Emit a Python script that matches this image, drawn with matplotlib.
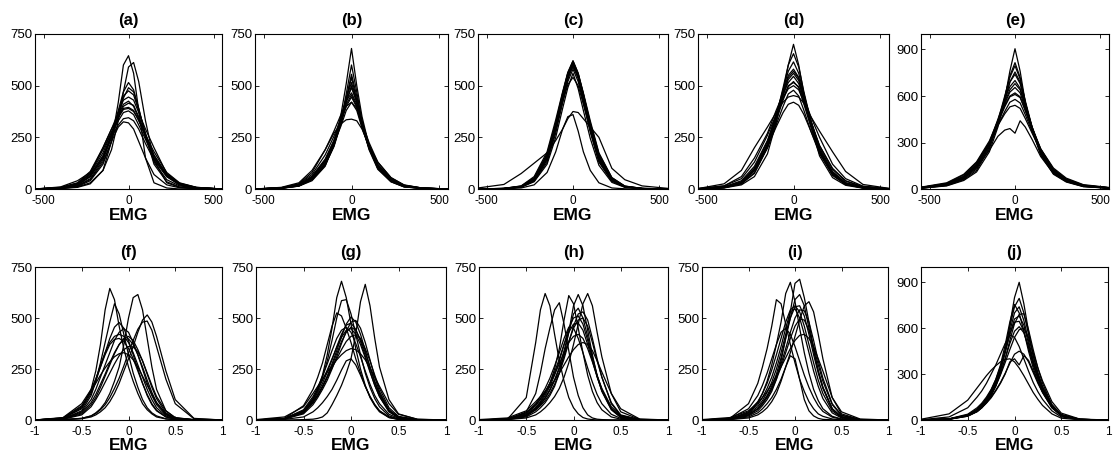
import matplotlib
matplotlib.use("Agg")
import matplotlib.pyplot as plt

plt.rcParams['font.family'] = ['Liberation Sans', 'DejaVu Sans']
plt.rcParams['axes.unicode_minus'] = False

# ---------------------------------------------------------------- data
# histogram sample positions (top row: raw EMG, bottom row: normalised EMG)
emg_raw = [-550, -400, -300, -225, -150, -100, -60, -30, 0, 30, 60, 100, 150, 225, 300, 400, 550]
emg_norm = [-1, -0.7, -0.5, -0.4, -0.35, -0.3, -0.25, -0.2, -0.15, -0.1, -0.05, 0,
            0.05, 0.1, 0.15, 0.2, 0.25, 0.3, 0.4, 0.5, 0.7, 1]

panel_labels = ['a', 'b', 'c', 'd', 'e', 'f', 'g', 'h', 'i', 'j']

counts_a = [
    [0, 2, 8, 25, 90, 230, 420, 600, 645, 560, 380, 150, 30, 5, 0, 0, 0],
    [0, 3, 10, 30, 90, 190, 330, 470, 590, 612, 520, 330, 140, 30, 8, 2, 0],
    [0, 4, 15, 50, 140, 250, 380, 470, 515, 480, 390, 260, 130, 45, 15, 4, 0],
    [0, 5, 18, 60, 150, 260, 370, 450, 475, 455, 380, 270, 150, 60, 20, 5, 0],
    [0, 6, 25, 75, 200, 290, 370, 430, 445, 430, 370, 290, 200, 75, 28, 8, 0],
    [0, 5, 20, 65, 160, 265, 355, 410, 425, 400, 340, 250, 150, 65, 22, 6, 0],
    [0, 8, 30, 85, 200, 290, 350, 390, 395, 380, 330, 260, 180, 80, 30, 8, 0],
    [0, 10, 40, 80, 190, 275, 330, 370, 378, 360, 310, 240, 150, 70, 25, 6, 0],
    [0, 6, 25, 70, 160, 250, 310, 340, 345, 330, 290, 220, 140, 60, 20, 5, 0],
    [0, 4, 15, 45, 130, 230, 300, 325, 320, 290, 230, 150, 70, 20, 6, 2, 0],
    [0, 5, 20, 60, 150, 255, 345, 400, 415, 405, 350, 265, 165, 70, 25, 6, 0],
    [0, 7, 28, 75, 175, 275, 345, 385, 390, 375, 335, 255, 160, 70, 25, 7, 0],
    [0, 3, 12, 40, 120, 230, 350, 440, 490, 470, 390, 260, 120, 35, 10, 2, 0],
]
counts_b = [
    [0, 3, 14, 40, 110, 220, 360, 510, 680, 500, 350, 210, 100, 35, 10, 3, 0],
    [0, 4, 15, 45, 115, 210, 330, 460, 600, 470, 330, 200, 100, 38, 12, 3, 0],
    [0, 5, 18, 50, 125, 220, 330, 440, 555, 450, 330, 210, 110, 42, 14, 4, 0],
    [0, 4, 14, 45, 115, 205, 315, 430, 540, 430, 310, 190, 95, 35, 10, 3, 0],
    [0, 5, 20, 60, 140, 235, 340, 440, 515, 430, 320, 210, 115, 45, 15, 4, 0],
    [0, 4, 16, 50, 125, 215, 320, 420, 500, 420, 310, 200, 105, 40, 12, 3, 0],
    [0, 6, 25, 80, 190, 280, 360, 425, 465, 410, 320, 215, 120, 50, 18, 5, 0],
    [0, 5, 18, 55, 135, 225, 320, 400, 445, 395, 300, 200, 110, 45, 15, 4, 0],
    [0, 5, 20, 58, 135, 220, 305, 380, 420, 380, 295, 200, 110, 45, 16, 4, 0],
    [0, 8, 30, 90, 190, 270, 315, 335, 338, 330, 290, 210, 130, 55, 20, 5, 0],
    [0, 4, 16, 48, 120, 210, 320, 425, 490, 420, 310, 195, 100, 38, 12, 3, 0],
    [0, 5, 20, 62, 145, 235, 330, 410, 455, 400, 305, 205, 115, 48, 16, 4, 0],
    [0, 6, 24, 70, 165, 255, 340, 400, 420, 390, 320, 225, 130, 55, 18, 5, 0],
]
counts_c = [
    [0, 2, 12, 50, 160, 310, 460, 560, 620, 560, 460, 310, 160, 50, 12, 2, 0],
    [0, 2, 10, 40, 140, 285, 440, 550, 615, 550, 440, 285, 135, 38, 10, 2, 0],
    [0, 3, 14, 55, 170, 320, 465, 560, 610, 555, 460, 320, 170, 55, 14, 3, 0],
    [0, 2, 10, 38, 130, 270, 420, 530, 600, 535, 425, 275, 130, 38, 10, 2, 0],
    [0, 2, 11, 42, 145, 290, 425, 520, 580, 520, 420, 285, 140, 42, 11, 2, 0],
    [0, 3, 15, 60, 180, 335, 470, 565, 620, 560, 465, 330, 175, 55, 14, 3, 0],
    [0, 2, 9, 35, 120, 250, 390, 490, 560, 485, 380, 245, 115, 32, 8, 2, 0],
    [0, 2, 12, 45, 150, 295, 420, 505, 540, 500, 410, 285, 145, 44, 12, 2, 0],
    [5, 22, 75, 125, 175, 235, 290, 340, 375, 370, 340, 300, 250, 100, 45, 15, 3],
    [0, 1, 5, 20, 80, 180, 290, 350, 360, 280, 180, 90, 30, 5, 1, 0, 0],
    [0, 2, 10, 42, 150, 300, 440, 540, 600, 545, 445, 300, 150, 42, 10, 2, 0],
    [0, 2, 11, 45, 155, 305, 445, 545, 590, 540, 440, 300, 155, 45, 11, 2, 0],
    [0, 3, 13, 50, 165, 315, 455, 550, 605, 550, 455, 315, 165, 50, 13, 3, 0],
]
counts_d = [
    [0, 5, 20, 60, 170, 320, 470, 600, 700, 600, 460, 310, 160, 55, 18, 4, 0],
    [0, 6, 25, 75, 200, 350, 490, 600, 655, 590, 470, 330, 180, 65, 22, 5, 0],
    [0, 8, 30, 90, 220, 360, 480, 570, 615, 560, 460, 330, 190, 75, 25, 6, 0],
    [0, 10, 35, 100, 230, 360, 470, 550, 580, 540, 450, 330, 200, 85, 30, 8, 0],
    [2, 15, 60, 150, 270, 380, 460, 515, 545, 510, 440, 350, 250, 120, 50, 14, 2],
    [0, 8, 30, 95, 210, 330, 430, 495, 520, 490, 410, 300, 180, 75, 25, 6, 0],
    [2, 15, 50, 130, 260, 360, 440, 485, 500, 480, 420, 320, 210, 100, 40, 12, 2],
    [0, 8, 30, 90, 200, 310, 400, 460, 478, 450, 380, 280, 170, 70, 25, 6, 0],
    [2, 25, 90, 200, 300, 370, 420, 445, 452, 445, 415, 350, 280, 180, 85, 22, 3],
    [0, 10, 35, 100, 205, 300, 370, 410, 420, 405, 360, 280, 180, 80, 30, 8, 0],
    [0, 8, 30, 90, 215, 345, 460, 540, 570, 535, 445, 320, 190, 80, 28, 7, 0],
    [0, 6, 25, 80, 200, 330, 450, 530, 560, 525, 430, 305, 175, 70, 22, 5, 0],
    [0, 10, 40, 110, 235, 350, 440, 500, 515, 495, 430, 330, 210, 95, 38, 10, 0],
]
counts_e = [
    [5, 20, 55, 110, 240, 400, 580, 760, 905, 760, 560, 380, 220, 95, 45, 15, 5],
    [5, 22, 60, 120, 260, 420, 590, 730, 815, 720, 560, 390, 230, 100, 48, 16, 5],
    [8, 28, 70, 140, 280, 440, 600, 720, 795, 710, 570, 400, 240, 110, 55, 20, 6],
    [6, 25, 65, 130, 270, 420, 570, 690, 755, 690, 550, 390, 230, 105, 50, 18, 5],
    [10, 35, 80, 160, 300, 450, 580, 660, 700, 650, 540, 400, 260, 125, 60, 22, 8],
    [8, 30, 75, 150, 290, 430, 550, 625, 655, 620, 520, 390, 250, 120, 58, 20, 6],
    [12, 40, 95, 175, 310, 440, 540, 600, 620, 595, 510, 390, 260, 135, 70, 28, 10],
    [8, 30, 80, 160, 290, 410, 500, 560, 578, 555, 480, 370, 245, 120, 60, 22, 8],
    [10, 35, 90, 170, 300, 410, 485, 530, 540, 520, 455, 360, 245, 125, 65, 25, 8],
    [5, 25, 70, 140, 250, 340, 380, 390, 360, 440, 400, 320, 210, 100, 50, 18, 5],
    [8, 28, 72, 145, 285, 435, 575, 690, 740, 680, 555, 400, 245, 115, 55, 20, 6],
    [10, 32, 80, 155, 295, 440, 560, 640, 680, 640, 535, 395, 250, 120, 58, 22, 7],
    [8, 30, 78, 150, 290, 425, 530, 595, 610, 590, 505, 385, 255, 128, 62, 24, 8],
]
counts_f = [
    [0, 8, 60, 150, 240, 370, 540, 645, 590, 460, 350, 260, 190, 130, 80, 50, 30, 15, 5, 2, 0, 0],
    [0, 6, 45, 120, 190, 280, 380, 480, 570, 520, 420, 320, 230, 160, 100, 60, 35, 20, 6, 2, 0, 0],
    [0, 2, 8, 20, 35, 55, 85, 130, 190, 260, 370, 500, 600, 615, 540, 400, 260, 150, 45, 10, 2, 0],
    [0, 2, 6, 15, 25, 40, 60, 90, 130, 180, 240, 300, 360, 430, 490, 515, 480, 410, 240, 100, 8, 0],
    [0, 2, 8, 20, 32, 50, 75, 110, 155, 205, 265, 330, 390, 445, 480, 485, 440, 360, 200, 80, 6, 0],
    [0, 8, 55, 130, 190, 260, 330, 400, 455, 478, 450, 390, 320, 250, 180, 120, 75, 45, 15, 4, 0, 0],
    [0, 6, 40, 100, 150, 210, 270, 330, 390, 430, 448, 430, 380, 320, 250, 180, 120, 75, 25, 6, 1, 0],
    [0, 5, 35, 85, 125, 175, 225, 280, 330, 370, 395, 398, 370, 320, 260, 195, 135, 85, 30, 8, 1, 0],
    [0, 4, 25, 65, 100, 140, 185, 230, 275, 315, 345, 360, 358, 335, 290, 230, 170, 115, 45, 12, 1, 0],
    [0, 10, 70, 140, 180, 220, 255, 285, 310, 325, 330, 320, 295, 260, 215, 170, 125, 85, 30, 8, 1, 0],
    [0, 10, 65, 140, 200, 270, 330, 380, 410, 420, 410, 380, 330, 270, 210, 150, 100, 60, 20, 5, 0, 0],
    [0, 5, 30, 75, 110, 160, 215, 270, 325, 370, 400, 410, 390, 345, 290, 225, 160, 105, 35, 9, 1, 0],
    [0, 12, 80, 150, 200, 260, 320, 370, 395, 400, 385, 350, 300, 240, 180, 125, 80, 48, 15, 4, 0, 0],
]
counts_g = [
    [0, 0, 2, 4, 8, 15, 35, 75, 120, 170, 230, 300, 420, 580, 665, 560, 400, 260, 100, 30, 3, 0],
    [0, 5, 40, 100, 150, 220, 320, 450, 600, 680, 600, 470, 350, 250, 170, 110, 70, 40, 12, 3, 0, 0],
    [0, 6, 45, 105, 150, 210, 290, 390, 500, 585, 590, 520, 420, 320, 230, 160, 105, 65, 20, 5, 0, 0],
    [0, 8, 70, 150, 210, 280, 370, 460, 525, 510, 450, 380, 300, 230, 165, 115, 75, 45, 15, 4, 0, 0],
    [0, 5, 35, 85, 120, 165, 215, 275, 340, 410, 470, 505, 480, 420, 340, 260, 185, 125, 45, 12, 1, 0],
    [0, 5, 30, 75, 110, 150, 195, 250, 310, 375, 435, 480, 488, 450, 380, 295, 210, 140, 50, 14, 1, 0],
    [0, 8, 45, 105, 145, 195, 245, 300, 355, 405, 440, 448, 420, 370, 305, 235, 170, 115, 42, 12, 1, 0],
    [0, 6, 40, 90, 125, 165, 210, 255, 300, 345, 385, 410, 418, 400, 350, 290, 220, 155, 60, 18, 2, 0],
    [2, 15, 65, 130, 165, 200, 235, 265, 295, 320, 340, 350, 345, 325, 295, 255, 210, 165, 80, 28, 4, 0],
    [0, 3, 15, 40, 60, 85, 115, 150, 195, 245, 290, 300, 270, 220, 165, 115, 75, 45, 12, 3, 0, 0],
    [0, 6, 40, 95, 135, 180, 235, 295, 360, 420, 465, 475, 445, 385, 315, 240, 170, 115, 40, 10, 1, 0],
    [0, 5, 35, 85, 120, 160, 210, 265, 325, 385, 430, 455, 440, 395, 330, 260, 190, 130, 48, 14, 1, 0],
    [0, 7, 50, 115, 160, 215, 275, 340, 400, 440, 455, 430, 375, 310, 240, 175, 120, 80, 28, 8, 0, 0],
]
counts_h = [
    [0, 3, 110, 380, 540, 620, 560, 420, 290, 190, 110, 60, 30, 12, 5, 2, 0, 0, 0, 0, 0, 0],
    [0, 3, 40, 130, 230, 350, 450, 540, 575, 470, 340, 210, 120, 60, 25, 10, 4, 2, 0, 0, 0, 0],
    [0, 3, 25, 60, 90, 130, 180, 250, 350, 490, 610, 570, 450, 330, 220, 140, 85, 50, 15, 4, 0, 0],
    [0, 2, 15, 40, 60, 85, 120, 165, 230, 320, 430, 560, 615, 560, 440, 320, 215, 140, 50, 12, 1, 0],
    [0, 2, 10, 25, 40, 60, 85, 115, 155, 210, 280, 370, 470, 570, 620, 560, 430, 310, 130, 40, 3, 0],
    [0, 3, 20, 50, 75, 105, 145, 195, 260, 340, 430, 520, 548, 500, 410, 310, 220, 150, 55, 15, 1, 0],
    [0, 4, 25, 55, 80, 110, 150, 195, 250, 315, 385, 450, 490, 500, 460, 380, 290, 210, 85, 25, 2, 0],
    [0, 5, 35, 80, 115, 155, 205, 265, 330, 400, 455, 450, 400, 330, 255, 185, 125, 80, 28, 8, 0, 0],
    [0, 5, 35, 75, 105, 140, 180, 225, 275, 330, 380, 410, 420, 400, 350, 285, 215, 155, 65, 20, 2, 0],
    [2, 10, 45, 90, 115, 140, 165, 195, 230, 270, 310, 345, 370, 380, 370, 340, 290, 235, 130, 55, 5, 0],
    [0, 4, 25, 60, 85, 120, 165, 220, 290, 370, 450, 500, 510, 470, 390, 300, 215, 145, 55, 15, 1, 0],
    [0, 3, 20, 50, 70, 95, 130, 175, 230, 300, 380, 460, 520, 530, 490, 400, 300, 210, 80, 22, 2, 0],
    [0, 5, 30, 70, 100, 135, 180, 235, 300, 370, 430, 470, 475, 440, 370, 290, 210, 145, 55, 16, 1, 0],
]
counts_i = [
    [0, 3, 20, 45, 70, 100, 140, 200, 290, 400, 530, 670, 690, 600, 480, 350, 240, 160, 55, 15, 1, 0],
    [0, 5, 35, 85, 130, 190, 270, 370, 480, 620, 675, 580, 450, 330, 230, 150, 95, 55, 18, 5, 0, 0],
    [0, 8, 80, 180, 260, 350, 460, 590, 570, 470, 370, 280, 200, 140, 90, 55, 30, 18, 5, 1, 0, 0],
    [0, 3, 15, 35, 55, 80, 110, 150, 200, 260, 330, 410, 490, 560, 580, 530, 420, 300, 110, 30, 2, 0],
    [0, 4, 25, 55, 85, 120, 165, 225, 305, 400, 500, 590, 615, 560, 450, 340, 240, 160, 55, 15, 1, 0],
    [0, 5, 35, 75, 110, 155, 210, 280, 360, 450, 530, 545, 500, 420, 330, 240, 165, 105, 35, 10, 0, 0],
    [0, 4, 25, 55, 80, 110, 150, 200, 260, 330, 400, 460, 495, 490, 440, 360, 270, 190, 75, 22, 2, 0],
    [0, 8, 55, 120, 170, 230, 300, 370, 430, 450, 420, 360, 290, 220, 160, 110, 70, 42, 14, 4, 0, 0],
    [2, 12, 45, 85, 110, 140, 175, 215, 260, 305, 350, 390, 415, 420, 400, 360, 300, 240, 110, 40, 5, 0],
    [0, 2, 10, 25, 40, 60, 90, 130, 190, 260, 315, 300, 200, 100, 45, 20, 8, 3, 1, 0, 0, 0],
    [0, 5, 30, 65, 95, 135, 185, 250, 330, 420, 500, 555, 560, 510, 420, 320, 230, 155, 55, 15, 1, 0],
    [0, 6, 40, 90, 130, 180, 245, 320, 400, 480, 540, 560, 530, 460, 370, 280, 195, 130, 45, 12, 1, 0],
    [0, 4, 25, 55, 80, 115, 155, 210, 275, 350, 430, 500, 540, 535, 480, 390, 290, 205, 80, 24, 2, 0],
]
counts_j = [
    [0, 5, 25, 55, 80, 115, 160, 225, 320, 450, 620, 800, 900, 760, 580, 420, 300, 210, 90, 30, 3, 0],
    [0, 6, 30, 65, 95, 135, 185, 250, 340, 460, 610, 740, 795, 700, 560, 420, 310, 220, 100, 35, 4, 0],
    [0, 6, 32, 70, 100, 140, 195, 265, 360, 490, 640, 755, 700, 580, 450, 340, 250, 180, 80, 28, 3, 0],
    [0, 5, 25, 55, 80, 115, 160, 220, 300, 400, 520, 630, 690, 695, 590, 460, 340, 240, 100, 35, 4, 0],
    [0, 8, 38, 80, 110, 150, 200, 265, 350, 450, 560, 640, 645, 580, 470, 360, 270, 195, 90, 32, 4, 0],
    [0, 6, 30, 62, 90, 125, 170, 225, 295, 375, 460, 540, 590, 600, 540, 440, 340, 255, 120, 45, 6, 0],
    [2, 20, 80, 150, 190, 240, 300, 360, 430, 500, 555, 540, 480, 400, 320, 245, 185, 135, 60, 20, 2, 0],
    [0, 6, 30, 60, 85, 115, 150, 195, 245, 305, 370, 430, 450, 430, 380, 310, 240, 180, 80, 28, 3, 0],
    [0, 5, 28, 55, 80, 110, 145, 190, 240, 300, 380, 400, 360, 420, 390, 320, 250, 185, 85, 30, 3, 0],
    [5, 40, 130, 210, 250, 290, 325, 355, 380, 395, 400, 380, 340, 290, 235, 180, 135, 95, 40, 12, 1, 0],
    [0, 6, 30, 65, 95, 130, 180, 245, 330, 440, 580, 700, 740, 650, 520, 390, 290, 205, 90, 32, 4, 0],
    [0, 7, 34, 70, 100, 140, 190, 255, 340, 445, 560, 660, 680, 620, 500, 380, 280, 200, 90, 32, 4, 0],
    [0, 6, 32, 68, 95, 130, 175, 235, 310, 400, 500, 580, 610, 570, 480, 370, 275, 198, 90, 32, 4, 0],
]

raw_ticks = [-500, 0, 500]
raw_ticklabels = ['-500', '0', '500']
norm_ticks = [-1, -0.5, 0, 0.5, 1]
norm_ticklabels = ['-1', '-0.5', '0', '0.5', '1']
yticks_750 = [0, 250, 500, 750]
yticks_900 = [0, 300, 600, 900]

# ---------------------------------------------------------------- layout
W, H = 1118, 461
fig = plt.figure(figsize=(W / 100, H / 100), dpi=100)
fig.patch.set_facecolor('white')

# axes boxes in pixels: (left, top, right, bottom)
boxes = [(35, 34, 222, 189), (255, 34, 448, 189), (478, 34, 668, 189),
         (698, 34, 889, 189), (921, 34, 1109, 189),
         (35, 267, 222, 420), (256, 267, 446, 420), (479, 267, 668, 420),
         (702, 267, 888, 420), (921, 267, 1108, 420)]

all_counts = [counts_a, counts_b, counts_c, counts_d, counts_e,
              counts_f, counts_g, counts_h, counts_i, counts_j]

for k, (label, curves, box) in enumerate(zip(panel_labels, all_counts, boxes)):
    l, t, r, b = box
    ax = fig.add_axes([l / W, 1 - b / H, (r - l) / W, (b - t) / H])
    top_row = k < 5
    xs = emg_raw if top_row else emg_norm
    for c in curves:
        ax.plot(xs, c, color='black', lw=0.9, solid_joinstyle='round')

    if top_row:
        ax.set_xlim(-550, 550)
        ax.set_xticks(raw_ticks)
        ax.set_xticklabels(raw_ticklabels)
    else:
        ax.set_xlim(-1, 1)
        ax.set_xticks(norm_ticks)
        ax.set_xticklabels(norm_ticklabels)

    if label in ('e', 'j'):
        ax.set_ylim(0, 1000)
        ax.set_yticks(yticks_900)
    else:
        ax.set_ylim(0, 750)
        ax.set_yticks(yticks_750)

    ax.tick_params(direction='in', length=3, width=0.6, top=True, right=True,
                   colors='black')
    ax.tick_params(axis='x', pad=4, labelsize=8.5)
    ax.tick_params(axis='y', pad=2, labelsize=9.5)
    for s in ax.spines.values():
        s.set_linewidth(0.8)
        s.set_color('black')

    title_off = 9.7 if top_row else 10.8
    ax.annotate(f'({label})', xy=(0.5, 1), xycoords='axes fraction',
                xytext=(0, title_off), textcoords='offset points',
                ha='center', va='center', fontsize=12, fontweight='bold')
    emg_off = -19.4 if top_row else -18.7
    ax.annotate('EMG', xy=(0.5, 0), xycoords='axes fraction',
                xytext=(0, emg_off), textcoords='offset points',
                ha='center', va='center', fontsize=12.5, fontweight='bold')

fig.savefig('out.png', dpi=100, facecolor='white')
